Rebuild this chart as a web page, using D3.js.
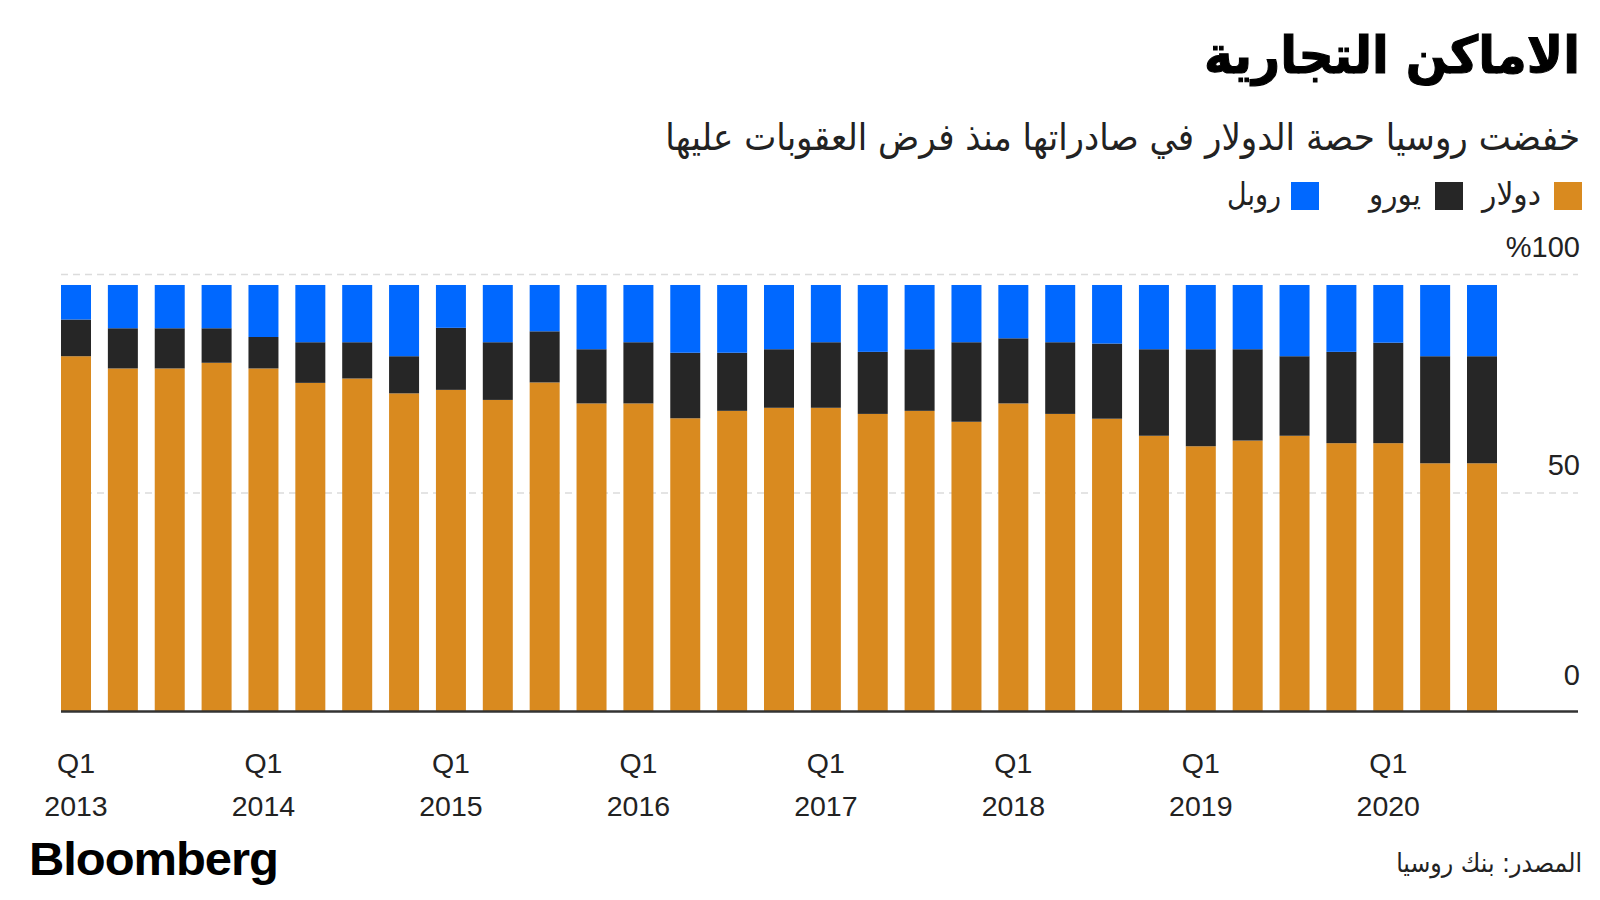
<!DOCTYPE html>
<html><head><meta charset="utf-8">
<script src="https://cdn.jsdelivr.net/npm/d3@7"></script>
<style>
html,body{margin:0;padding:0;background:#fff;}
svg{display:block;}
</style></head>
<body>
<svg id="chart" width="1600" height="900"></svg>
<script>
// ---- data ----
const quarters = ["Q1 2013","Q2 2013","Q3 2013","Q4 2013","Q1 2014","Q2 2014","Q3 2014","Q4 2014",
  "Q1 2015","Q2 2015","Q3 2015","Q4 2015","Q1 2016","Q2 2016","Q3 2016","Q4 2016",
  "Q1 2017","Q2 2017","Q3 2017","Q4 2017","Q1 2018","Q2 2018","Q3 2018","Q4 2018",
  "Q1 2019","Q2 2019","Q3 2019","Q4 2019","Q1 2020","Q2 2020","Q3 2020"];
const dollar = [81.3,78.5,78.5,79.8,78.5,75.2,76.2,72.8,73.6,71.3,75.3,70.5,70.5,67.1,68.8,69.5,
  69.5,68.1,68.8,66.3,70.5,68.1,67.0,63.1,60.7,62.0,63.1,61.4,61.4,56.8,56.8];
const euro = [8.4,9.2,9.2,7.9,7.2,9.3,8.3,8.5,14.2,13.2,11.7,12.4,14.0,15.0,13.3,13.4,
  15.0,14.2,14.1,18.2,14.9,16.4,17.2,19.8,22.2,20.9,18.2,20.9,23.0,24.5,24.5];
const ruble = [7.9,9.9,9.9,9.9,11.9,13.1,13.1,16.3,9.8,13.1,10.6,14.7,13.1,15.5,15.5,14.7,
  13.1,15.3,14.7,13.1,12.2,13.1,13.4,14.7,14.7,14.7,16.3,15.3,13.2,16.3,16.3];
const seriesKeys = ["dollar","euro","ruble"];
const seriesNames = ["دولار","يورو","روبل"];
const seriesColors = ["#D98A1F","#262626","#0068FF"];
const yTicks = [0,50,100];
const yTickLabels = ["0","50","%100"];
const xTickQuarters = ["Q1 2013","Q1 2014","Q1 2015","Q1 2016","Q1 2017","Q1 2018","Q1 2019","Q1 2020"];
const xTickTop = ["Q1","Q1","Q1","Q1","Q1","Q1","Q1","Q1"];
const xTickBottom = ["2013","2014","2015","2016","2017","2018","2019","2020"];
const titleText = "الاماكن التجارية";
const subtitleText = "خفضت روسيا حصة الدولار في صادراتها منذ فرض العقوبات عليها";
const sourceText = "المصدر: بنك روسيا";

// ---- build ----
const rows = quarters.map((q,i)=>({q, dollar:dollar[i], euro:euro[i], ruble:ruble[i]}));
const svg = d3.select("#chart");
const x = d3.scaleBand().domain(quarters).range([61,1497]).paddingInner(0.36).paddingOuter(0);
const y = d3.scaleLinear().domain([0,100]).range([711.5,274.5]);
const ARABIC = "'DejaVu Sans', sans-serif";
const LATIN = "'Liberation Sans', Arial, sans-serif";

function fitText(sel, xr, yb, targetW, sy){
  const w = sel.node().getComputedTextLength();
  sel.attr("x",0).attr("y",0)
     .attr("transform",`translate(${xr},${yb}) scale(${targetW/w},${sy||1})`);
}

// gridlines
svg.append("g").selectAll("line").data(yTicks.filter(d=>d>0)).join("line")
  .attr("x1",61).attr("x2",1578)
  .attr("y1",d=>y(d)).attr("y2",d=>y(d))
  .attr("stroke","#dcdcdc").attr("stroke-width",1.5).attr("stroke-dasharray","7,5");

// bars
const stacked = d3.stack().keys(seriesKeys)(rows);
svg.append("g").selectAll("g").data(stacked).join("g")
  .attr("fill",(d,i)=>seriesColors[i])
  .selectAll("rect").data(d=>d).join("rect")
  .attr("x",d=>x(d.data.q)).attr("width",x.bandwidth())
  .attr("y",d=>y(d[1])).attr("height",d=>y(d[0])-y(d[1]));

// baseline
svg.append("line").attr("x1",61).attr("x2",1578).attr("y1",y(0)).attr("y2",y(0))
  .attr("stroke","#333").attr("stroke-width",2.5);

// y labels
const yOff = {0:-27, 50:-18, 100:-18};
svg.append("g").selectAll("text").data(yTicks).join("text")
  .attr("x",1580).attr("y",d=>y(d)+yOff[d])
  .attr("text-anchor","end").attr("font-family",LATIN).attr("font-size",29)
  .attr("fill","#222").attr("direction","ltr")
  .text((d,i)=>yTickLabels[i]);

// x labels
const xl = svg.append("g").attr("font-family",LATIN).attr("font-size",28.5).attr("fill","#222").attr("text-anchor","middle");
xl.selectAll("text.q").data(xTickQuarters).join("text").attr("class","q")
  .attr("x",d=>x(d)+x.bandwidth()/2).attr("y",773).text((d,i)=>xTickTop[i]);
xl.selectAll("text.yr").data(xTickQuarters).join("text").attr("class","yr")
  .attr("x",d=>x(d)+x.bandwidth()/2).attr("y",816).text((d,i)=>xTickBottom[i]);

// title & subtitle
const t = svg.append("text").attr("text-anchor","end").attr("font-family",ARABIC)
  .attr("font-weight","bold").attr("font-size",46).attr("fill","#000").attr("stroke","#000").attr("stroke-width",1).text(titleText);
fitText(t,1580,73,376,1.12);
const st = svg.append("text").attr("text-anchor","end").attr("font-family",ARABIC)
  .attr("font-size",31).attr("fill","#222").text(subtitleText);
fitText(st,1580,150,915,1.2);

// legend
const legSq = [1554,1435,1291];
const legTxtR = [1541,1421,1281];
const legTxtW = [59,52,54];
seriesNames.forEach((n,i)=>{
  svg.append("rect").attr("x",legSq[i]).attr("y",182).attr("width",28).attr("height",28).attr("fill",seriesColors[i]);
  const lt = svg.append("text").attr("text-anchor","end").attr("font-family",ARABIC)
    .attr("font-size",27).attr("fill","#222").text(n);
  fitText(lt,legTxtR[i],205,legTxtW[i],1.15);
});

// footer
const bb = svg.append("text").attr("text-anchor","start").attr("font-family",LATIN)
  .attr("font-weight","bold").attr("font-size",47).attr("fill","#000").attr("letter-spacing",-1).text("Bloomberg");
{
  const w = bb.node().getComputedTextLength();
  bb.attr("x",0).attr("y",0).attr("transform",`translate(29,875) scale(${249/w},1)`);
}
const src = svg.append("text").attr("text-anchor","end").attr("font-family",ARABIC)
  .attr("font-size",24).attr("fill","#222").text(sourceText);
fitText(src,1582,872,186,1.1);
</script>
</body></html>
